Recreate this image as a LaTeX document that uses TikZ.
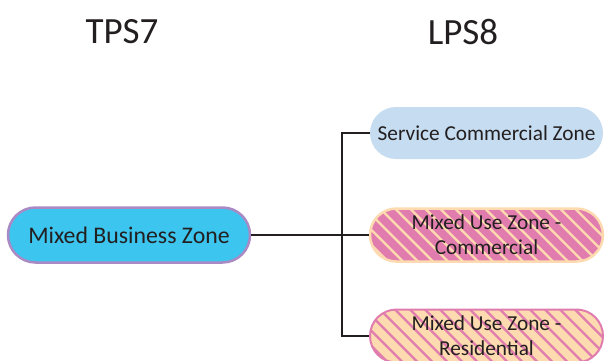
\documentclass[tikz,border=0pt]{standalone}
\usepackage{fontspec}
\setmainfont{Carlito}
\usetikzlibrary{shapes.misc, positioning}

\definecolor{txt}{HTML}{231F20}
\definecolor{zcyan}{HTML}{3CC5EE}
\definecolor{zpurple}{HTML}{A98AC4}
\definecolor{zblue}{HTML}{C6DCF0}
\definecolor{zpink}{HTML}{E17DAE}
\definecolor{zpeach}{HTML}{FDDAAF}

\begin{document}
\begin{tikzpicture}[x=1pt, y=-1pt,
    zb/.style={rounded rectangle, minimum width=233pt, minimum height=53pt, inner sep=0pt, font=\fontsize{21.3}{25}\selectfont, align=center, text=txt},
    hd/.style={font=\fontsize{37}{40}\selectfont, text=txt},
    ln/.style={line width=2pt, draw=txt},
    st/.style 2 args={fill=#1, path picture={
        \foreach \s in {-70,-55,...,250}
            \draw[line width=2.3pt, #2] (path picture bounding box.north west) ++(\s pt,5pt) -- ++(75pt,-75pt);}},
]
\useasboundingbox (0,0) rectangle (605,361);

% Headers
\node[hd] (tps) at (122,32) {TPS7};
\node[hd] (lps) at (463,32) {LPS8};

% Zones
\node[zb, minimum width=242pt, minimum height=55pt, fill=zcyan, draw=zpurple, line width=2.5pt, font=\fontsize{23.8}{27}\selectfont] (mbz) at (129,235) {Mixed Business Zone};
\node[zb, minimum height=52pt, fill=zblue] (svc) at (486.5,133) {Service Commercial Zone};
\node[zb, st={zpink}{zpeach}, draw=zpeach, line width=2.5pt] (muc) at (486.5,235) {Mixed Use Zone -\\Commercial};
\node[zb, st={zpeach}{zpink}, draw=zpink, line width=2pt] (mur) at (486.5,336) {Mixed Use Zone -\\Residential};

% Connectors
\coordinate (trunk) at (342,235);
\draw[ln] (mbz.east) -- (trunk);
\draw[ln] (trunk) |- (svc.west);
\draw[ln] (trunk) -- (muc.west);
\draw[ln] (trunk) |- (mur.west);
\end{tikzpicture}
\end{document}
